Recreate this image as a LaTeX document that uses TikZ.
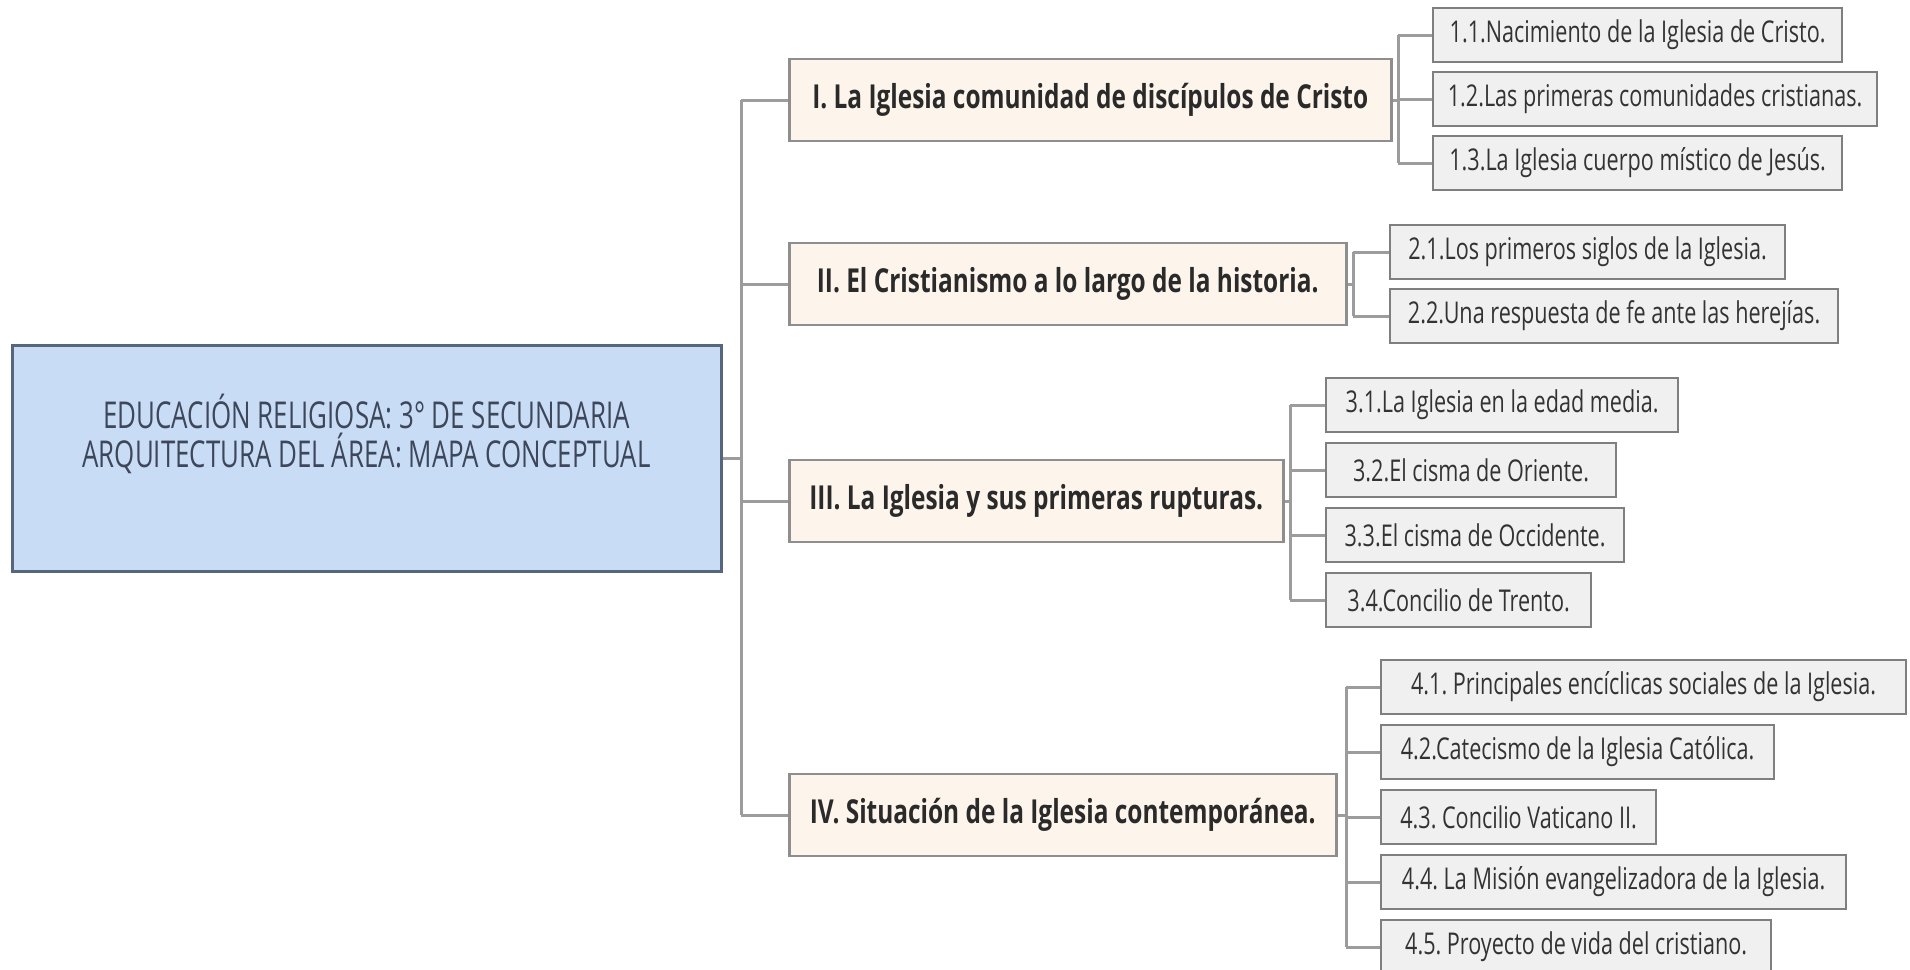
\documentclass[tikz,border=0pt]{standalone}
\usepackage{fontspec}
\usetikzlibrary{backgrounds}
\newfontfamily\mainf[FakeStretch=0.70]{Open Sans}
\newfontfamily\lvlf[FakeStretch=0.74]{Open Sans}
\newfontfamily\subf[FakeStretch=0.72]{Open Sans}
\frenchspacing
\definecolor{mainfill}{HTML}{C9DCF6}
\definecolor{mainborder}{HTML}{56667D}
\definecolor{maintext}{HTML}{3D4759}
\definecolor{lvlfill}{HTML}{FDF5EC}
\definecolor{lvlborder}{HTML}{8E8E8E}
\definecolor{lvltext}{HTML}{2A2A2A}
\definecolor{subfill}{HTML}{F0F0F0}
\definecolor{subborder}{HTML}{7F7F7F}
\definecolor{subtext}{HTML}{333333}
\definecolor{linec}{HTML}{9C9C9C}
\tikzset{
  mainbox/.style={draw=mainborder, fill=mainfill, line width=3pt, inner sep=0pt,
    minimum width=709pt, minimum height=226pt},
  maintxt/.style={inner sep=0pt, align=center, text=maintext,
    font=\mainf\fontsize{37}{39}\selectfont},
  lvlbox/.style={draw=lvlborder, fill=lvlfill, line width=2.5pt, inner xsep=0pt, inner ysep=0pt,
    minimum height=82pt, anchor=west, text=lvltext,
    font=\lvlf\bfseries\fontsize{33}{36}\selectfont},
  subbox/.style={draw=subborder, fill=subfill, line width=2.2pt, inner xsep=0pt, inner ysep=0pt,
    minimum height=54pt, anchor=west, text=subtext,
    font=\subf\fontsize{30}{32}\selectfont},
  conn/.style={draw=linec, line width=3pt, line cap=square}
}
\begin{document}
\begin{tikzpicture}[x=1pt,y=-1pt]
\useasboundingbox (0,0) rectangle (1910,969);
\clip (0,0) rectangle (1910,969);

% main node
\node[mainbox] (main) at (366.5,458) {};
\node[maintxt] (maint) at (366.5,434) {EDUCACIÓN RELIGIOSA: 3° DE SECUNDARIA\\ARQUITECTURA DEL ÁREA: MAPA CONCEPTUAL};

% level 1
\node[lvlbox, minimum width=602pt] (L1) at (788,100) {I. La Iglesia comunidad de discípulos de Cristo};
\node[lvlbox, minimum width=557pt] (L2) at (788,284) {II. El Cristianismo a lo largo de la historia.};
\node[lvlbox, minimum width=494pt] (L3) at (788,501) {III. La Iglesia y sus primeras rupturas.};
\node[lvlbox, minimum width=547pt] (L4) at (788,815) {IV. Situación de la Iglesia contemporánea.};

% level 2 - I
\node[subbox, minimum width=409pt] (s11) at (1432,35) {1.1.Nacimiento de la Iglesia de Cristo.};
\node[subbox, minimum width=444pt] (s12) at (1432,99) {1.2.Las primeras comunidades cristianas.};
\node[subbox, minimum width=409pt] (s13) at (1432,163) {1.3.La Iglesia cuerpo místico de Jesús.};
% II
\node[subbox, minimum width=395pt] (s21) at (1389,252) {2.1.Los primeros siglos de la Iglesia.};
\node[subbox, minimum width=448pt] (s22) at (1389,316) {2.2.Una respuesta de fe ante las herejías.};
% III
\node[subbox, minimum width=352pt] (s31) at (1325,405) {3.1.La Iglesia en la edad media.};
\node[subbox, minimum width=290pt] (s32) at (1325,470) {3.2.El cisma de Oriente.};
\node[subbox, minimum width=298pt] (s33) at (1325,535) {3.3.El cisma de Occidente.};
\node[subbox, minimum width=265pt] (s34) at (1325,600) {3.4.Concilio de Trento.};
% IV
\node[subbox, minimum width=525pt] (s41) at (1380,687) {4.1. Principales encíclicas sociales de la Iglesia.};
\node[subbox, minimum width=393pt] (s42) at (1380,752) {4.2.Catecismo de la Iglesia Católica.};
\node[subbox, minimum width=275pt] (s43) at (1380,817) {4.3. Concilio Vaticano II.};
\node[subbox, minimum width=465pt] (s44) at (1380,882) {4.4. La Misión evangelizadora de la Iglesia.};
\node[subbox, minimum width=390pt] (s45) at (1380,947) {4.5. Proyecto de vida del cristiano.};

% connectors
\coordinate (tr) at (741,458);
\coordinate (b1) at (1398,100);
\coordinate (b2) at (1353,284);
\coordinate (b3) at (1290,501);
\coordinate (b4) at (1346,815);
\begin{scope}[on background layer]
  \fill[white] (0,0) rectangle (1910,969);
  \draw[conn] (main.east) -- (tr);
  \draw[conn] (L1.west -| tr) -- (L4.west -| tr);
  \foreach \n in {L1,L2,L3,L4} \draw[conn] (\n.west -| tr) -- (\n.west);
  \draw[conn] (L1.east) -- (b1);
  \draw[conn] (s11.west -| b1) -- (s13.west -| b1);
  \foreach \n in {s11,s12,s13} \draw[conn] (\n.west -| b1) -- (\n.west);
  \draw[conn] (L2.east) -- (b2);
  \draw[conn] (s21.west -| b2) -- (s22.west -| b2);
  \foreach \n in {s21,s22} \draw[conn] (\n.west -| b2) -- (\n.west);
  \draw[conn] (L3.east) -- (b3);
  \draw[conn] (s31.west -| b3) -- (s34.west -| b3);
  \foreach \n in {s31,s32,s33,s34} \draw[conn] (\n.west -| b3) -- (\n.west);
  \draw[conn] (L4.east) -- (b4);
  \draw[conn] (s41.west -| b4) -- (s45.west -| b4);
  \foreach \n in {s41,s42,s43,s44,s45} \draw[conn] (\n.west -| b4) -- (\n.west);
\end{scope}
\end{tikzpicture}
\end{document}
